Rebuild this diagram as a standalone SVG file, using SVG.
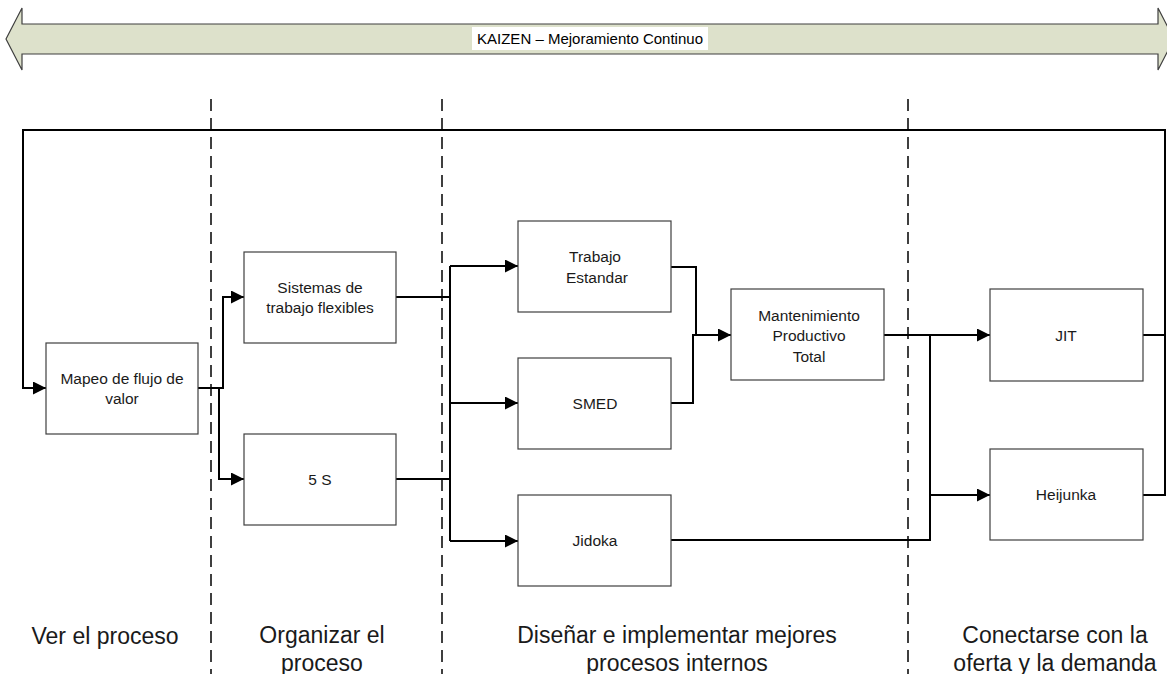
<svg xmlns="http://www.w3.org/2000/svg" width="1167" height="674" viewBox="0 0 1167 674">
<style>
.box{fill:#fff;stroke:#3f3f3f;stroke-width:1.2}
.t{font-family:"Liberation Sans",Arial,sans-serif;font-size:15.5px;fill:#1a1a1a;text-anchor:middle}
.lbl{font-family:"Liberation Sans",Arial,sans-serif;font-size:23px;fill:#1a1a1a;text-anchor:middle}
.c{fill:none;stroke:#000;stroke-width:2}
.a{marker-end:url(#ah)}
.d{fill:none;stroke:#000;stroke-width:1.5;stroke-dasharray:12 7}
</style>
<defs>
<marker id="ah" markerUnits="userSpaceOnUse" markerWidth="14" markerHeight="14" refX="13" refY="6.5" orient="auto">
<path d="M0,0 L13,6.5 L0,13 z" fill="#000"/>
</marker>
</defs>
<rect width="1167" height="674" fill="#fff"/>
<g id="kaizen">
<path d="M6,39 L22,8 L22,24 L1158,24 L1158,8 L1174,39 L1158,70 L1158,54 L22,54 L22,70 Z" fill="#dde1cb" stroke="#3f3f3f" stroke-width="1.2"/>
<rect x="472" y="27" width="236" height="23" fill="#fff"/>
<text x="590" y="44" font-family="Liberation Sans, Arial, sans-serif" font-size="15" text-anchor="middle" fill="#000">KAIZEN – Mejoramiento Continuo</text>
</g>
<g id="dividers">
<line class="d" x1="211" y1="99" x2="211" y2="674"/>
<line class="d" x1="442" y1="99" x2="442" y2="674"/>
<line class="d" x1="908" y1="99" x2="908" y2="674"/>
</g>
<g id="connectors">
<path class="c a" d="M1143,335 H1165 V130 H23 V388 H46"/>
<path class="c" d="M1143,495 H1165 V335"/>
<path class="c a" d="M198,388 H223 V297 H244"/>
<path class="c a" d="M219,388 V479 H244"/>
<path class="c" d="M396,297 H450"/>
<path class="c" d="M396,479 H450"/>
<path class="c" d="M450,266 V541"/>
<path class="c a" d="M450,266 H518"/>
<path class="c a" d="M450,403 H518"/>
<path class="c a" d="M450,541 H518"/>
<path class="c" d="M671,267 H696 V335"/>
<path class="c a" d="M671,403 H693 V335 H731"/>
<path class="c a" d="M884,335 H990"/>
<path class="c" d="M671,540 H930 V335"/>
<path class="c a" d="M930,495 H990"/>
</g>
<g id="mapeo"><rect class="box" x="46" y="343" width="152" height="91"/><text class="t" x="122" y="384">Mapeo de flujo de</text><text class="t" x="122" y="404">valor</text></g>
<g id="sistemas"><rect class="box" x="244" y="252" width="152" height="91"/><text class="t" x="320" y="293">Sistemas de</text><text class="t" x="320" y="313">trabajo flexibles</text></g>
<g id="cinco-s"><rect class="box" x="244" y="434" width="152" height="91"/><text class="t" x="320" y="485">5 S</text></g>
<g id="trabajo"><rect class="box" x="518" y="221" width="153" height="91"/><text class="t" x="595" y="262">Trabajo</text><text class="t" x="597" y="283">Estandar</text></g>
<g id="smed"><rect class="box" x="518" y="358" width="153" height="91"/><text class="t" x="595" y="409">SMED</text></g>
<g id="jidoka"><rect class="box" x="518" y="495" width="153" height="91"/><text class="t" x="595" y="546">Jidoka</text></g>
<g id="mantenimiento"><rect class="box" x="731" y="289" width="153" height="91"/><text class="t" x="809" y="321">Mantenimiento</text><text class="t" x="809" y="341">Productivo</text><text class="t" x="809" y="362">Total</text></g>
<g id="jit"><rect class="box" x="990" y="289" width="153" height="92"/><text class="t" x="1066" y="341">JIT</text></g>
<g id="heijunka"><rect class="box" x="990" y="449" width="153" height="91"/><text class="t" x="1066" y="500">Heijunka</text></g>
<g id="labels">
<text class="lbl" x="105" y="644">Ver el proceso</text>
<text class="lbl" x="322" y="643">Organizar el</text>
<text class="lbl" x="322" y="671">proceso</text>
<text class="lbl" x="677" y="643">Diseñar e implementar mejores</text>
<text class="lbl" x="677" y="671">procesos internos</text>
<text class="lbl" x="1055" y="643">Conectarse con la</text>
<text class="lbl" x="1055" y="671">oferta y la demanda</text>
</g>
</svg>
